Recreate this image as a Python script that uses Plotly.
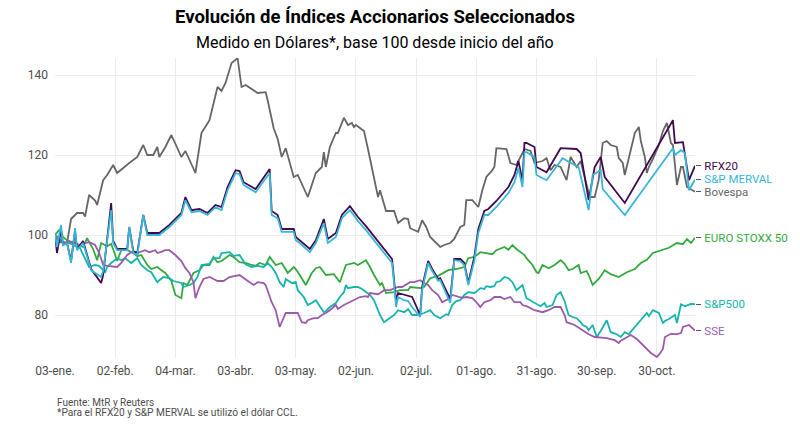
import plotly.graph_objs as go

ANIO = "2022-"

# ticks del eje x (cada 30 dias desde el 03-ene)
ticks_fechas = ["01-03", "02-02", "03-04", "04-03", "05-03", "06-02", "07-02",
                "08-01", "08-31", "09-30", "10-30"]
ticks_texto = ["03-ene.", "02-feb.", "04-mar.", "03-abr.", "03-may.", "02-jun.",
               "02-jul.", "01-ago.", "31-ago.", "30-sep.", "30-oct."]
ticks_y = [80, 100, 120, 140]

# Bovespa
bovespa_fechas = ["01-03", "01-05", "01-09", "01-11", "01-14", "01-17", "01-18", "01-20", "01-23", "01-24",
                  "01-27", "01-29", "02-01", "02-03", "02-09", "02-13", "02-16", "02-18", "02-21", "02-23",
                  "02-24", "02-27", "03-02", "03-07", "03-09", "03-14", "03-17", "03-21", "03-25", "03-27",
                  "03-29", "04-01", "04-04", "04-06", "04-08", "04-14", "04-18", "04-19", "04-22", "04-24",
                  "04-26", "04-28", "05-02", "05-04", "05-09", "05-13", "05-16", "05-17", "05-18", "05-20",
                  "05-23", "05-24", "05-27", "05-29", "05-31", "06-01", "06-02", "06-06", "06-08", "06-10",
                  "06-13", "06-14", "06-17", "06-21", "06-23", "06-26", "06-28", "06-29", "07-03", "07-05",
                  "07-07", "07-09", "07-14", "07-16", "07-19", "07-21", "07-24", "07-26", "07-27", "07-30",
                  "08-02", "08-04", "08-06", "08-09", "08-10", "08-11", "08-14", "08-16", "08-18", "08-21",
                  "08-25", "08-28", "08-30", "09-03", "09-05", "09-07", "09-09", "09-12", "09-15", "09-17",
                  "09-20", "09-22", "09-26", "09-27", "09-29", "10-01", "10-03", "10-05", "10-07", "10-10",
                  "10-11", "10-13", "10-14", "10-17", "10-19", "10-21", "10-22", "10-24", "10-25", "10-26",
                  "10-28", "10-31", "11-02", "11-04", "11-06", "11-07", "11-09", "11-11", "11-12", "11-14",
                  "11-18"]
bovespa_valores = [100, 98.5, 98, 104, 105.5, 105.5, 104.6, 110, 108.6, 107.5,
                   113.7, 115, 117.5, 115.5, 118, 119.5, 122.5, 120, 120, 122,
                   119.5, 122, 125, 119.5, 121, 115.5, 125.5, 128.7, 137, 136,
                   138, 143, 144.2, 137, 137.5, 135.5, 135.7, 133.7, 126.7, 124,
                   119.5, 121.7, 114.5, 115, 109.5, 115.5, 117, 120.7, 117, 122,
                   125.5, 125.5, 129.3, 127.5, 128, 127, 127.5, 126, 121.5, 116.5,
                   109.5, 111.2, 106, 106, 103, 104.2, 104, 101.7, 100.8, 103.7,
                   102, 99.5, 97, 97.5, 98, 99, 102, 102.5, 108.7, 108.7,
                   107, 111.2, 114.5, 116.2, 117, 121.7, 121.5, 121.5, 118, 117.5,
                   121.5, 121, 118, 118.5, 119.2, 116.2, 117.5, 117, 113.7, 119.5,
                   117, 118.5, 110.5, 109.5, 109.5, 113.7, 123, 123.5, 122.5, 122,
                   119.2, 118, 115, 121.5, 125.5, 127, 123.5, 119.5, 115.5, 117,
                   119, 122.5, 126, 128, 123, 122.5, 112.5, 117, 117, 112,
                   110.8]

# EURO STOXX 50
euro_fechas = ["01-03", "01-05", "01-07", "01-10", "01-14", "01-17", "01-19", "01-22", "01-24", "01-26",
               "01-29", "01-31", "02-02", "02-03", "02-05", "02-08", "02-11", "02-13", "02-15", "02-18",
               "02-20", "02-23", "02-25", "02-27", "03-02", "03-04", "03-07", "03-08", "03-10", "03-13",
               "03-16", "03-18", "03-21", "03-23", "03-25", "03-27", "03-31", "04-02", "04-05", "04-08",
               "04-11", "04-13", "04-15", "04-18", "04-20", "04-23", "04-26", "04-28", "04-29", "05-02",
               "05-03", "05-05", "05-08", "05-11", "05-13", "05-15", "05-18", "05-22", "05-25", "05-28",
               "06-01", "06-03", "06-07", "06-09", "06-11", "06-14", "06-15", "06-17", "06-21", "06-24",
               "06-28", "06-29", "07-04", "07-06", "07-09", "07-13", "07-18", "07-22", "07-26", "07-28",
               "07-31", "08-03", "08-06", "08-09", "08-11", "08-15", "08-17", "08-19", "08-21", "08-25",
               "08-26", "08-29", "08-31", "09-01", "09-03", "09-06", "09-09", "09-12", "09-14", "09-16",
               "09-18", "09-21", "09-22", "09-25", "09-26", "09-28", "10-01", "10-04", "10-07", "10-10",
               "10-11", "10-15", "10-19", "10-22", "10-25", "10-28", "11-01", "11-05", "11-09", "11-12",
               "11-14", "11-16", "11-18"]
euro_valores = [100, 101.2, 99.5, 98.2, 97.8, 97, 99.2, 96.5, 93.7, 98,
                97.2, 97.8, 95, 93.5, 96.2, 96.2, 95.5, 94.7, 95, 92.5,
                91.5, 92, 91.2, 90.5, 88.5, 85, 84.2, 88, 87.5, 90.5,
                91.2, 92.5, 92.5, 94.5, 93.2, 93.5, 95, 94.5, 93.2, 93,
                92.5, 92.3, 93, 92.5, 94.5, 92.5, 93, 91.2, 90.5, 92,
                91.5, 90, 87.5, 90.5, 91.7, 92, 90, 90.2, 88.2, 92.5,
                93, 92.5, 93.7, 92, 90, 87.5, 88, 85.5, 85.7, 86.2,
                86.2, 87, 86.7, 87, 89.2, 89.8, 91.2, 91.5, 92, 94.2,
                94.5, 95.7, 95.5, 95.2, 96.2, 97, 96.3, 97.5, 96.5, 95,
                94.2, 92.5, 90.7, 90.5, 92.5, 91.7, 92.5, 93.7, 92.8, 91.2,
                91.5, 92.5, 90.5, 91, 90, 87.5, 89, 91.2, 90.2, 89.7,
                89.5, 90.7, 91.5, 93, 93.8, 95.5, 96.2, 96.8, 98, 97.7,
                99, 98, 99.3]

# S&P500
sp500_fechas = ["01-03", "01-05", "01-07", "01-10", "01-14", "01-15", "01-18", "01-20", "01-23", "01-25",
                "01-28", "01-29", "01-31", "02-03", "02-05", "02-07", "02-10", "02-13", "02-15", "02-18",
                "02-20", "02-23", "02-24", "02-26", "03-01", "03-03", "03-07", "03-08", "03-11", "03-13",
                "03-15", "03-17", "03-21", "03-23", "03-26", "03-27", "03-31", "04-02", "04-05", "04-08",
                "04-11", "04-14", "04-17", "04-19", "04-21", "04-23", "04-25", "04-27", "04-28", "05-01",
                "05-03", "05-04", "05-07", "05-09", "05-11", "05-13", "05-17", "05-18", "05-20", "05-23",
                "05-25", "05-27", "05-28", "05-29", "06-01", "06-03", "06-05", "06-08", "06-09", "06-11",
                "06-14", "06-16", "06-18", "06-21", "06-23", "06-26", "06-28", "06-30", "07-03", "07-06",
                "07-09", "07-11", "07-14", "07-17", "07-18", "07-20", "07-22", "07-24", "07-26", "07-28",
                "07-31", "08-01", "08-03", "08-05", "08-06", "08-08", "08-10", "08-11", "08-13", "08-15",
                "08-17", "08-19", "08-21", "08-24", "08-26", "08-30", "09-02", "09-04", "09-05", "09-08",
                "09-10", "09-12", "09-14", "09-15", "09-16", "09-18", "09-20", "09-22", "09-23", "09-25",
                "09-26", "09-28", "09-30", "10-02", "10-05", "10-07", "10-10", "10-12", "10-14", "10-16",
                "10-20", "10-22", "10-25", "10-26", "10-28", "10-31", "11-02", "11-03", "11-05", "11-08",
                "11-09", "11-11", "11-13", "11-16", "11-18"]
sp500_valores = [100, 99, 98.2, 98, 97, 97.2, 94.2, 92, 92.5, 92.3,
                 90.7, 92, 93, 94.2, 93.7, 94.2, 93, 94.2, 92.5, 91.2,
                 90.7, 88.2, 88.7, 89.5, 89.2, 88.5, 88, 87, 87.5, 88,
                 89.5, 92.5, 92.8, 94.2, 94.2, 95.5, 95.7, 94.8, 95, 92.7,
                 92, 92.3, 92, 93, 92, 90.5, 88.2, 87, 89, 88,
                 88.3, 86.2, 84.5, 82.5, 83, 83.7, 80.7, 81, 82, 83,
                 84.5, 85.7, 87.5, 86.7, 87, 87, 86.5, 85.5, 85, 83.7,
                 80, 78.2, 79, 80, 81.2, 80.7, 81.5, 80, 80, 80.5,
                 81.2, 80, 79.2, 80.2, 80, 82.5, 83.5, 83.7, 85, 85.7,
                 85.5, 85.8, 86.7, 86.5, 87.2, 87, 87.2, 88.2, 88.5, 89.5,
                 89.2, 88.2, 86.2, 87.5, 84.2, 83, 82.2, 83, 82, 82.5,
                 85, 85.7, 83.5, 81.7, 80, 79.5, 79.2, 78.2, 77.5, 77,
                 76.2, 77.5, 74.5, 76, 78.7, 75.7, 75.2, 74.5, 75.7, 75.2,
                 77.5, 78.8, 80.5, 79.7, 81.2, 80.5, 78, 78.5, 79, 80,
                 78, 82.7, 82.2, 82.8, 82.7]

# SSE (Shanghai)
sse_fechas = ["01-03", "01-05", "01-08", "01-10", "01-13", "01-15", "01-18", "01-20", "01-23", "01-25",
              "01-27", "01-29", "02-03", "02-05", "02-08", "02-10", "02-13", "02-14", "02-17", "02-19",
              "02-22", "02-23", "02-25", "02-27", "03-01", "03-04", "03-07", "03-09", "03-11", "03-13",
              "03-14", "03-16", "03-18", "03-21", "03-23", "03-25", "03-28", "03-31", "04-05", "04-07",
              "04-10", "04-12", "04-13", "04-14", "04-17", "04-18", "04-21", "04-23", "04-25", "04-27",
              "04-28", "05-03", "05-04", "05-06", "05-08", "05-09", "05-12", "05-14", "05-16", "05-18",
              "05-20", "05-23", "05-24", "05-27", "05-29", "06-01", "06-04", "06-07", "06-08", "06-09",
              "06-13", "06-14", "06-16", "06-19", "06-23", "06-25", "06-29", "07-01", "07-04", "07-06",
              "07-08", "07-10", "07-13", "07-15", "07-18", "07-20", "07-22", "07-25", "07-27", "07-30",
              "08-01", "08-03", "08-05", "08-08", "08-10", "08-13", "08-15", "08-18", "08-20", "08-23",
              "08-24", "08-26", "08-30", "09-03", "09-06", "09-09", "09-12", "09-14", "09-15", "09-19",
              "09-23", "09-26", "09-29", "10-05", "10-09", "10-11", "10-12", "10-15", "10-17", "10-20",
              "10-22", "10-25", "10-27", "10-30", "10-31", "11-02", "11-03", "11-06", "11-09", "11-11",
              "11-12", "11-15", "11-18"]
sse_valores = [100, 98.2, 98, 98.5, 98, 97.5, 98, 98.2, 97.5, 95.5,
               92.5, 92.3, 92, 93, 95, 95.7, 95.2, 95.7, 96.2, 95.7,
               96.2, 95.5, 95.8, 96.2, 96.2, 95, 93.5, 91.7, 90.5, 88.2,
               84.2, 87, 89, 89.5, 89, 88.5, 88.5, 89.5, 90, 89.2,
               88.2, 87.5, 87.8, 88.2, 88, 87.5, 83.2, 81.2, 77, 79.5,
               80.5, 80.5, 80.5, 78.2, 78, 78.7, 79.2, 79.2, 80, 80.5,
               81.2, 82.5, 81.5, 82.5, 83, 83.7, 84.5, 84.7, 84.5, 85.5,
               85.2, 85.5, 86.2, 86.2, 87, 87, 88.2, 88.2, 88.7, 88,
               87.5, 86.2, 85, 83.2, 84, 85, 84.7, 84.3, 84.5, 84.2,
               83.2, 82, 83.2, 83.7, 84.5, 84.5, 84, 84.5, 83.2, 83.2,
               82.5, 82.2, 81.2, 80.7, 81.2, 82, 82, 80, 78.2, 77.5,
               76.2, 75.2, 74.5, 74.2, 73.7, 73, 73.6, 74.5, 75, 74,
               73, 71.7, 70.5, 69.5, 70, 71.5, 74.5, 75.3, 75.2, 75.5,
               77, 77.5, 76.1]

# RFX20 (dolar CCL)
rfx20_fechas = ["01-03", "01-04", "01-06", "01-07", "01-09", "01-11", "01-13", "01-14", "01-17", "01-21",
                "01-26", "01-27", "01-31", "02-01", "02-03", "02-08", "02-09", "02-11", "02-13", "02-16",
                "02-18", "02-24", "03-01", "03-07", "03-09", "03-12", "03-16", "03-20", "03-24", "03-27",
                "03-30", "04-03", "04-05", "04-07", "04-13", "04-20", "04-21", "04-24", "04-26", "05-02",
                "05-03", "05-05", "05-10", "05-13", "05-17", "05-19", "05-23", "05-26", "05-30", "06-03",
                "06-07", "06-20", "06-21", "06-22", "06-23", "06-26", "06-28", "06-30", "07-04", "07-05",
                "07-08", "07-10", "07-13", "07-14", "07-19", "07-21", "07-24", "07-26", "07-28", "07-31",
                "08-02", "08-05", "08-07", "08-11", "08-17", "08-20", "08-22", "08-24", "08-25", "08-26",
                "08-30", "08-31", "09-05", "09-12", "09-20", "09-22", "09-26", "09-29", "10-02", "10-04",
                "10-14", "11-07", "11-08", "11-12", "11-15", "11-18"]
rfx20_valores = [100, 95.5, 101.5, 97.5, 98, 93.5, 101, 96.5, 98.5, 91.5,
                 88, 90, 108, 98.5, 96.5, 96.5, 102, 96, 95.5, 105,
                 100.5, 100.5, 102.5, 105.5, 109.5, 106.2, 106.5, 105.5, 107.5, 107,
                 112, 116.2, 116, 113.2, 111.5, 116.5, 106, 105, 101.5, 101.5,
                 99.5, 98.7, 96.5, 98.7, 104, 99, 100.5, 105, 107.2, 104.5,
                 102.2, 94, 89, 83.5, 85.5, 85, 84.7, 84.5, 80, 87,
                 93.5, 91.5, 89, 89.2, 84, 94, 94, 93, 88, 94.5,
                 101.5, 106, 106.5, 108.5, 112, 115, 118.5, 113.5, 123, 123,
                 122, 117, 115.7, 121.7, 121.5, 120.5, 108.7, 117, 119.5, 114.5,
                 108, 128.7, 123, 123.2, 113.7, 117.3]

# S&P MERVAL (dolar CCL)
merval_fechas = ["01-03", "01-04", "01-06", "01-07", "01-09", "01-11", "01-13", "01-14", "01-17", "01-21",
                 "01-26", "01-27", "01-31", "02-01", "02-03", "02-08", "02-09", "02-11", "02-13", "02-16",
                 "02-18", "02-24", "03-01", "03-07", "03-09", "03-12", "03-16", "03-20", "03-24", "03-27",
                 "03-30", "04-03", "04-05", "04-07", "04-13", "04-20", "04-21", "04-24", "04-26", "05-02",
                 "05-03", "05-05", "05-10", "05-13", "05-17", "05-19", "05-23", "05-26", "05-30", "06-03",
                 "06-07", "06-20", "06-21", "06-22", "06-23", "06-26", "06-28", "06-30", "07-04", "07-05",
                 "07-08", "07-10", "07-13", "07-14", "07-19", "07-21", "07-24", "07-26", "07-28", "07-31",
                 "08-02", "08-05", "08-07", "08-11", "08-17", "08-20", "08-22", "08-24", "08-25", "08-26",
                 "08-30", "08-31", "09-05", "09-13", "09-19", "09-21", "09-26", "09-28", "10-02", "10-03",
                 "10-14", "11-07", "11-08", "11-11", "11-13", "11-15", "11-18"]
merval_valores = [100, 97, 102.5, 97.5, 98, 93, 101.7, 96.2, 98, 91.2,
                  89.5, 91, 106.2, 98, 96.2, 96.2, 102, 95.5, 95, 105,
                  100, 100, 102, 105, 108.7, 105.7, 106, 105, 107, 106.2,
                  111.2, 115.5, 115.2, 112.5, 110.7, 115.5, 105, 104.2, 100.8, 100.8,
                  98.7, 98, 95.7, 98, 103, 98, 99.5, 104.2, 106.2, 103.5,
                  101.2, 93, 88, 82, 84.5, 83.7, 83.5, 82, 79.5, 86.2,
                  93, 91, 88.5, 88.7, 83, 93.7, 93.5, 92.5, 87.5, 93.5,
                  100.5, 105, 105, 107, 110.5, 113.2, 116.7, 112, 120.7, 120.7,
                  119.5, 115, 113.7, 119.2, 117.5, 117, 106.2, 115, 116.2, 111.5,
                  105, 121.7, 120, 121.2, 120.5, 111.2, 113.9]

series = [
    ("Bovespa", bovespa_fechas, bovespa_valores, "#666666"),
    ("EURO STOXX 50", euro_fechas, euro_valores, "#35a83f"),
    ("S&P500", sp500_fechas, sp500_valores, "#17b3ad"),
    ("SSE", sse_fechas, sse_valores, "#9b5baa"),
    ("RFX20", rfx20_fechas, rfx20_valores, "#410a4f"),
    ("S&P MERVAL", merval_fechas, merval_valores, "#38b6d8"),
]

rango_y = [69.25, 144.25]
gris = "#4d4d4d"
grilla = "#ebebeb"

fig = go.Figure()
for nombre, fechas, valores, color in series:
    fig.add_trace(go.Scatter(
        x=[ANIO + f for f in fechas],
        y=valores,
        name=nombre,
        mode="lines",
        line=dict(color=color, width=1.8),
    ))

# etiquetas a la derecha: eje secundario con ticks en el ultimo valor de cada serie
ultimos = [s[2][-1] for s in series]
etiquetas = ["<span style='color:%s'>%s</span>" % (s[3], s[0]) for s in series]
fig.add_trace(go.Scatter(
    x=[ANIO + "01-03"], y=[100], yaxis="y2", mode="markers",
    marker=dict(opacity=0), hoverinfo="skip", showlegend=False,
))

fig.update_layout(
    width=800,
    height=427,
    margin=dict(l=55, r=101, t=58, b=69),
    paper_bgcolor="white",
    plot_bgcolor="white",
    showlegend=False,
    font=dict(family="Roboto", color=gris),
    xaxis=dict(
        type="date",
        range=[ANIO + "01-03", ANIO + "11-18"],
        tickvals=[ANIO + f for f in ticks_fechas],
        ticktext=ticks_texto,
        showgrid=True, gridcolor=grilla, gridwidth=1,
        zeroline=False, showline=False, ticks="",
        tickfont=dict(size=12, color=gris),
        ticklabelstandoff=4,
    ),
    yaxis=dict(
        range=rango_y,
        tickvals=ticks_y,
        showgrid=True, gridcolor=grilla, gridwidth=1,
        zeroline=False, showline=False, ticks="",
        tickfont=dict(size=12, color=gris),
        ticklabelstandoff=6,
    ),
    yaxis2=dict(
        overlaying="y", side="right", anchor="x",
        range=rango_y,
        tickvals=ultimos,
        ticktext=etiquetas,
        showgrid=False, zeroline=False, showline=False,
        ticks="outside", ticklen=5, tickwidth=1.2, tickcolor="#555555",
        tickfont=dict(size=11.5),
        ticklabelstandoff=1,
    ),
)

fig.add_annotation(text="<b>Evolución de Índices Accionarios Seleccionados</b>",
                   xref="paper", yref="paper", x=0.5, y=1.137, yanchor="middle",
                   showarrow=False, font=dict(size=18.5, color="black"))
fig.add_annotation(text="Medido en Dólares*, base 100 desde inicio del año",
                   xref="paper", yref="paper", x=0.5, y=1.053, yanchor="middle",
                   showarrow=False, font=dict(size=16, color="black"))
fig.add_annotation(text="Fuente: MtR y Reuters",
                   xref="paper", yref="paper", x=0, y=-0.147, xanchor="left", yanchor="middle",
                   showarrow=False, font=dict(size=10, color=gris))
fig.add_annotation(text="*Para el RFX20 y S&P MERVAL se utilizó el dólar CCL.",
                   xref="paper", yref="paper", x=0, y=-0.183, xanchor="left", yanchor="middle",
                   showarrow=False, font=dict(size=10.2, color=gris))

# sin margen del body para que la figura quede pegada a la esquina de la ventana
fig.write_html("out.html", config={"displayModeBar": False},
               post_script="document.body.style.margin='0px';")
